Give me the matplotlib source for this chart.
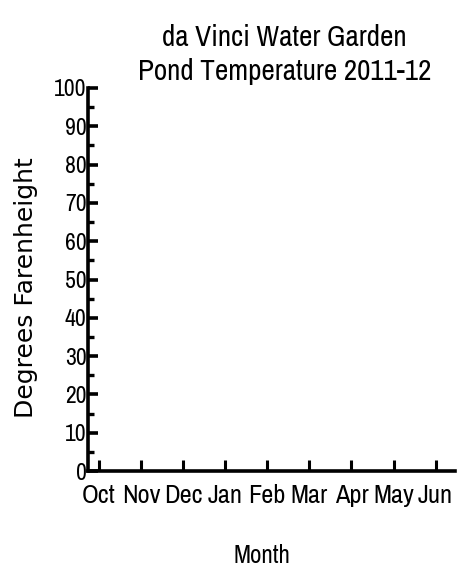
import matplotlib
matplotlib.use("Agg")
import matplotlib.pyplot as plt
from matplotlib.ticker import MultipleLocator

months = ["Oct", "Nov", "Dec", "Jan", "Feb", "Mar", "Apr", "May", "Jun"]
y_major = list(range(0, 101, 10))

narrow = ["Archivo Narrow", "DejaVu Sans"]
wide = ["DejaVu Sans"]

fig = plt.figure(figsize=(4.57, 5.71), dpi=100)
ax = fig.add_axes([0.1926, 0.175, 0.803, 0.671])

ax.set_xlim(-0.26, 8.46)
ax.set_ylim(0, 100)
for s in ["top", "right"]:
    ax.spines[s].set_visible(False)
for s in ["left", "bottom"]:
    ax.spines[s].set_linewidth(2.6)

ax.set_xticks(range(len(months)))
ax.set_xticklabels(months, family=narrow, fontsize=19)
ax.set_yticks(y_major)
ax.set_yticklabels([str(v) for v in y_major], family=narrow, fontsize=17)
ax.yaxis.set_minor_locator(MultipleLocator(5))

ax.tick_params(axis="y", which="major", direction="in", length=7, width=2.6, pad=1)
ax.tick_params(axis="y", which="minor", direction="in", length=4, width=2.4)
ax.tick_params(axis="x", which="major", direction="in", length=8, width=2.2, pad=9)

ax.set_xlabel("Month", family=narrow, fontsize=18, labelpad=22)
ax.xaxis.set_label_coords(0.474, -0.19)
ax.xaxis.label.set_va("top")
ax.set_ylabel("Degrees Farenheight", family=wide, fontsize=18)
ax.yaxis.set_label_coords(-0.136, 0.48)

fig.text(0.622, 0.905, "da Vinci Water Garden\nPond Temperature 2011-12",
         ha="center", va="center", family=narrow, fontsize=21, linespacing=1.3)

fig.savefig("out.png", dpi=100)
